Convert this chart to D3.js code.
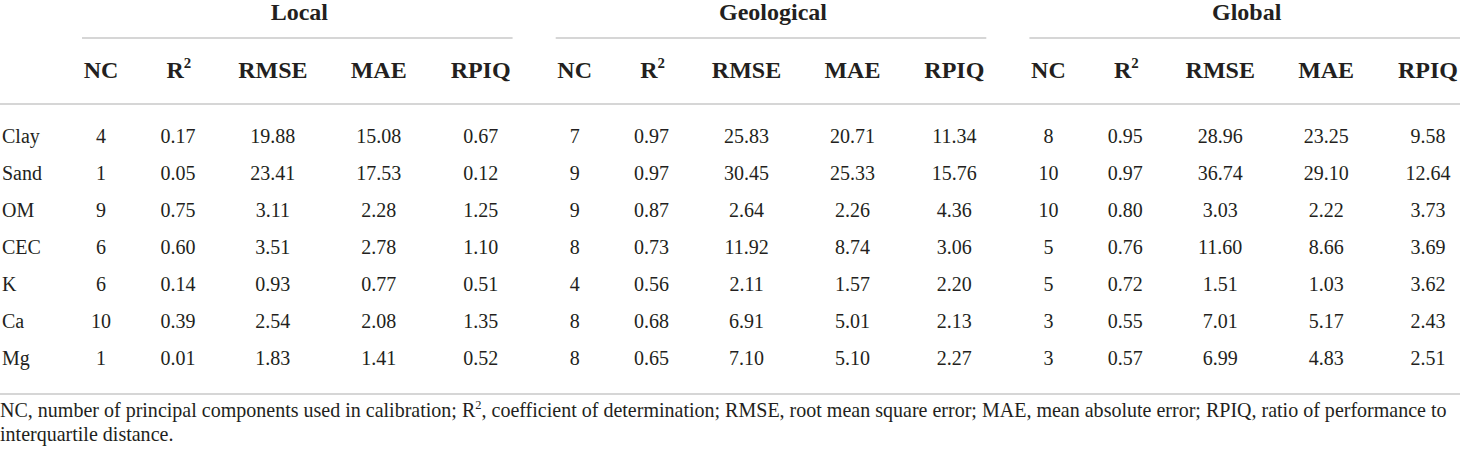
<!DOCTYPE html>
<html><head><meta charset="utf-8">
<script src="https://cdn.jsdelivr.net/npm/d3@7/dist/d3.min.js"></script>
<style>
html,body{margin:0;padding:0;background:#fff;}
svg text{font-family:"Liberation Serif","Times New Roman",serif;fill:#231f20;}
</style></head>
<body><svg id="chart" width="1460" height="454"></svg>
<script>
// ---- data ----
const groups = ["Local", "Geological", "Global"];
const metrics = ["NC", "R²", "RMSE", "MAE", "RPIQ"];
const properties = ["Clay", "Sand", "OM", "CEC", "K", "Ca", "Mg"];
const localNC   = ["4", "1", "9", "6", "6", "10", "1"];
const localR2   = ["0.17", "0.05", "0.75", "0.60", "0.14", "0.39", "0.01"];
const localRMSE = ["19.88", "23.41", "3.11", "3.51", "0.93", "2.54", "1.83"];
const localMAE  = ["15.08", "17.53", "2.28", "2.78", "0.77", "2.08", "1.41"];
const localRPIQ = ["0.67", "0.12", "1.25", "1.10", "0.51", "1.35", "0.52"];
const geoNC   = ["7", "9", "9", "8", "4", "8", "8"];
const geoR2   = ["0.97", "0.97", "0.87", "0.73", "0.56", "0.68", "0.65"];
const geoRMSE = ["25.83", "30.45", "2.64", "11.92", "2.11", "6.91", "7.10"];
const geoMAE  = ["20.71", "25.33", "2.26", "8.74", "1.57", "5.01", "5.10"];
const geoRPIQ = ["11.34", "15.76", "4.36", "3.06", "2.20", "2.13", "2.27"];
const globNC   = ["8", "10", "10", "5", "5", "3", "3"];
const globR2   = ["0.95", "0.97", "0.80", "0.76", "0.72", "0.55", "0.57"];
const globRMSE = ["28.96", "36.74", "3.03", "11.60", "1.51", "7.01", "6.99"];
const globMAE  = ["23.25", "29.10", "2.22", "8.66", "1.03", "5.17", "4.83"];
const globRPIQ = ["9.58", "12.64", "3.73", "3.69", "3.62", "2.43", "2.51"];
const footLine1 = "NC, number of principal components used in calibration; R|2|, coefficient of determination; RMSE, root mean square error; MAE, mean absolute error; RPIQ, ratio of performance to";
const footLine2 = "interquartile distance.";

const table = {
  Local: [localNC, localR2, localRMSE, localMAE, localRPIQ],
  Geological: [geoNC, geoR2, geoRMSE, geoMAE, geoRPIQ],
  Global: [globNC, globR2, globRMSE, globMAE, globRPIQ]
};

// ---- layout ----
const svg = d3.select("#chart");
const W = 1460;
const gx = d3.scaleBand().domain(groups).range([82, 1460]).paddingInner(0.091).paddingOuter(0);
const colFrac = [19, 96, 191, 297, 399].map(v => v / 431);
const mx = d3.scaleOrdinal().domain(metrics).range(colFrac);
const colX = (g, m) => gx(g) + mx(m) * gx.bandwidth();
const y = d3.scalePoint().domain(properties).range([143, 365]);

const lineColor = "#c9c9c9";
const dataSize = 20, headSize = 24;

// group headers
svg.selectAll("text.grp").data(groups).join("text")
  .attr("class", "grp")
  .attr("x", g => gx(g) + gx.bandwidth() / 2 + 2)
  .attr("y", 20)
  .attr("text-anchor", "middle")
  .attr("font-weight", "bold")
  .attr("font-size", headSize)
  .text(g => g);

// group underlines
svg.selectAll("line.grp").data(groups).join("line")
  .attr("x1", g => gx(g)).attr("x2", g => gx(g) + gx.bandwidth())
  .attr("y1", 38).attr("y2", 38)
  .attr("stroke", lineColor).attr("stroke-width", 1.6);

// metric headers
groups.forEach(g => {
  metrics.forEach(m => {
    const t = svg.append("text")
      .attr("x", colX(g, m) + (m === "R²" ? 1 : 0))
      .attr("y", 78)
      .attr("text-anchor", "middle")
      .attr("font-weight", "bold")
      .attr("font-size", headSize);
    if (m === "R²") {
      t.append("tspan").text("R");
      t.append("tspan").attr("font-size", headSize * 0.62).attr("dy", -10).text("2");
    } else t.text(m);
  });
});

// horizontal rules
svg.append("line").attr("x1", 0).attr("x2", W).attr("y1", 104).attr("y2", 104)
  .attr("stroke", lineColor).attr("stroke-width", 1.6);
svg.append("line").attr("x1", 0).attr("x2", W).attr("y1", 394).attr("y2", 394)
  .attr("stroke", lineColor).attr("stroke-width", 1.6);

// row labels
svg.selectAll("text.row").data(properties).join("text")
  .attr("class", "row")
  .attr("x", 2).attr("y", p => y(p))
  .attr("font-size", dataSize)
  .text(p => p);

// cells
groups.forEach(g => {
  table[g].forEach((col, ci) => {
    const m = metrics[ci];
    svg.selectAll(null).data(col).join("text")
      .attr("x", colX(g, m))
      .attr("y", (v, i) => y(properties[i]))
      .attr("text-anchor", "middle")
      .attr("font-size", dataSize)
      .text(v => v);
  });
});

// footnote (sized so the first line spans the table width, as in the reference)
let footSize = 20;
const f1 = svg.append("text").attr("x", 0).attr("y", 417);
const sup = [];
footLine1.split("|").forEach((part, i) => {
  if (i === 1) sup.push(f1.append("tspan").attr("dy", -8).text(part));
  else if (i === 2) f1.append("tspan").attr("dy", 8).text(part);
  else f1.append("tspan").text(part);
});
function setFoot(s) {
  f1.attr("font-size", s);
  sup.forEach(t => t.attr("font-size", s * 0.62));
}
setFoot(footSize);
const wNow = f1.node().getComputedTextLength();
footSize = footSize * 1448 / wNow;
setFoot(footSize);
svg.append("text").attr("x", 0).attr("y", 441).attr("font-size", footSize).text(footLine2);
</script></body></html>
